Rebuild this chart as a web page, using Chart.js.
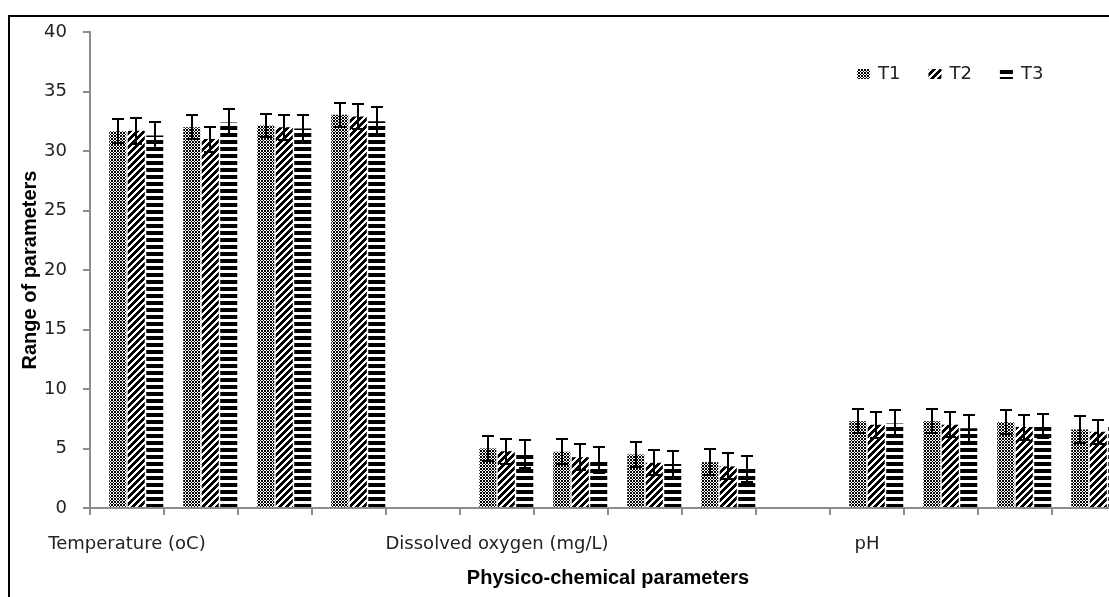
<!DOCTYPE html>
<html>
<head>
<meta charset="utf-8">
<script src="https://cdn.jsdelivr.net/npm/chart.js@4.4.1/dist/chart.umd.min.js"></script>
<style>
  html, body { margin: 0; padding: 0; background: #fff; overflow: hidden; }
  #frame { position: relative; width: 1109px; height: 597px; overflow: hidden; background: #fff; }
  #edge { position: absolute; left: 8px; top: 15px; width: 1400px; height: 900px; border: 2px solid #000; box-sizing: border-box; }
  #c { position: absolute; left: 0; top: 0; }
</style>
</head>
<body>
<div id="frame">
  <div id="edge"></div>
  <canvas id="c" width="1140" height="597"></canvas>
</div>
<script>
// Categories: four sampling groups per parameter, with an empty slot between parameters
const categories = [
  'Temperature (oC)', '', '', '', '',
  'Dissolved oxygen (mg/L)', '', '', '', '',
  'pH', '', '', ''
];

// Mean values per treatment
const t1Values = [31.65, 32.0, 32.15, 33.05, null, 5.0, 4.72, 4.5, 3.85, null, 7.3, 7.3, 7.2, 6.6];
const t2Values = [31.7, 31.0, 32.0, 32.9, null, 4.77, 4.27, 3.8, 3.5, null, 7.0, 7.0, 6.8, 6.4];
const t3Values = [31.3, 32.4, 31.9, 32.5, null, 4.55, 4.0, 3.7, 3.3, null, 7.1, 6.7, 6.9, 6.9];

// Error bar half-lengths per treatment
const t1Errors = [1.0, 1.0, 1.0, 1.0, null, 1.03, 1.04, 1.06, 1.1, null, 1.03, 1.03, 1.0, 1.15];
const t2Errors = [1.1, 1.05, 1.05, 1.05, null, 1.07, 1.07, 1.06, 1.08, null, 1.1, 1.05, 1.05, 1.0];
const t3Errors = [1.15, 1.1, 1.15, 1.2, null, 1.2, 1.1, 1.1, 1.1, null, 1.1, 1.15, 1.0, 1.1];

// Unused first series column (keeps the bars in the right three quarters of each slot)
const blankSeries = [null, null, null, null, null, null, null, null, null, null, null, null, null, null];

const seriesNames = ['T1', 'T2', 'T3'];
const yTicks = [0, 5, 10, 15, 20, 25, 30, 35, 40];

const canvas = document.getElementById('c');
const ctx = canvas.getContext('2d');

function makePattern(w, h, ink) {
  const c = document.createElement('canvas');
  c.width = w; c.height = h;
  const g = c.getContext('2d');
  g.fillStyle = '#ffffff';
  g.fillRect(0, 0, w, h);
  g.fillStyle = '#000000';
  for (let i = 0; i < w; i++) {
    for (let j = 0; j < h; j++) {
      if (ink(i, j)) g.fillRect(i, j, 1, 1);
    }
  }
  return ctx.createPattern(c, 'repeat');
}

// Fine dotted grid, wide upward diagonal, wide horizontal stripes
const fillT1 = makePattern(3, 3, (i, j) => (i < 2 && j < 2) || (i === 2 && j === 2));
const fillT2 = makePattern(7, 7, (i, j) => ((i + j) % 7) < 4);
const fillT3 = makePattern(1, 7, (i, j) => j < 4);

const errorSets = { T1: t1Errors, T2: t2Errors, T3: t3Errors };

const errorBarPlugin = {
  id: 'errorBars',
  afterDatasetsDraw(chart) {
    const g = chart.ctx;
    const y = chart.scales.y;
    g.save();
    g.strokeStyle = '#000';
    g.lineWidth = 2;
    chart.data.datasets.forEach((ds, di) => {
      const errs = errorSets[ds.label];
      if (!errs) return;
      const meta = chart.getDatasetMeta(di);
      meta.data.forEach((bar, i) => {
        const v = ds.data[i];
        const e = errs[i];
        if (v == null || e == null) return;
        const x = Math.round(bar.x);
        const yt = Math.round(y.getPixelForValue(v + e));
        const yb = Math.round(y.getPixelForValue(v - e));
        const cap = 6;
        g.beginPath();
        g.moveTo(x, yt); g.lineTo(x, yb);
        g.moveTo(x - cap, yt); g.lineTo(x + cap, yt);
        g.moveTo(x - cap, yb); g.lineTo(x + cap, yb);
        g.stroke();
      });
    });
    g.restore();
  }
};

const legendPlugin = {
  id: 'insideLegend',
  afterDraw(chart) {
    const g = chart.ctx;
    g.save();
    g.font = '18px "DejaVu Sans"';
    g.textBaseline = 'middle';
    g.textAlign = 'left';
    let x = 857;
    const yMid = 74;
    chart.data.datasets.forEach(ds => {
      if (!ds.label) return;
      g.fillStyle = ds.backgroundColor;
      g.fillRect(x, yMid - 5, 13, 10);
      g.fillStyle = '#222';
      g.fillText(ds.label, x + 21, yMid);
      x += 21 + g.measureText(ds.label).width + 28;
    });
    g.restore();
  }
};

const axisGray = '#8c8c8c';
const labelFont = { family: '"DejaVu Sans"', size: 18 };
const titleFont = { family: '"Liberation Sans"', size: 20, weight: 'bold' };

new Chart(ctx, {
  type: 'bar',
  data: {
    labels: categories,
    datasets: [
      { label: '', data: blankSeries, backgroundColor: 'rgba(0,0,0,0)' },
      { label: seriesNames[0], data: t1Values, backgroundColor: fillT1 },
      { label: seriesNames[1], data: t2Values, backgroundColor: fillT2 },
      { label: seriesNames[2], data: t3Values, backgroundColor: fillT3 }
    ]
  },
  options: {
    responsive: false,
    animation: false,
    layout: { padding: { left: 0, top: 32, right: 14, bottom: 0 } },
    datasets: { bar: { categoryPercentage: 1.0, barPercentage: 0.92 } },
    plugins: { legend: { display: false }, tooltip: { enabled: false } },
    scales: {
      x: {
        grid: { offset: true, drawOnChartArea: false, drawTicks: true, tickLength: 7, color: axisGray, lineWidth: 2 },
        border: { color: axisGray, width: 2 },
        ticks: { autoSkip: false, maxRotation: 0, minRotation: 0, padding: 19, font: labelFont, color: '#222' },
        title: { display: true, text: 'Physico-chemical parameters', font: titleFont, color: '#000', padding: { top: 0, bottom: 7 } },
        afterFit(scale) { scale.height = 89; }
      },
      y: {
        min: yTicks[0],
        max: yTicks[yTicks.length - 1],
        afterBuildTicks(scale) { scale.ticks = yTicks.map(v => ({ value: v })); },
        grid: { drawOnChartArea: false, drawTicks: true, tickLength: 7, color: axisGray, lineWidth: 2 },
        border: { color: axisGray, width: 2 },
        ticks: { padding: 16, font: labelFont, color: '#222' },
        title: { display: true, text: 'Range of parameters', font: titleFont, color: '#000', padding: { top: 18, bottom: 0 } },
        afterFit(scale) { scale.width = 90; }
      }
    }
  },
  plugins: [errorBarPlugin, legendPlugin]
});
</script>
</body>
</html>
